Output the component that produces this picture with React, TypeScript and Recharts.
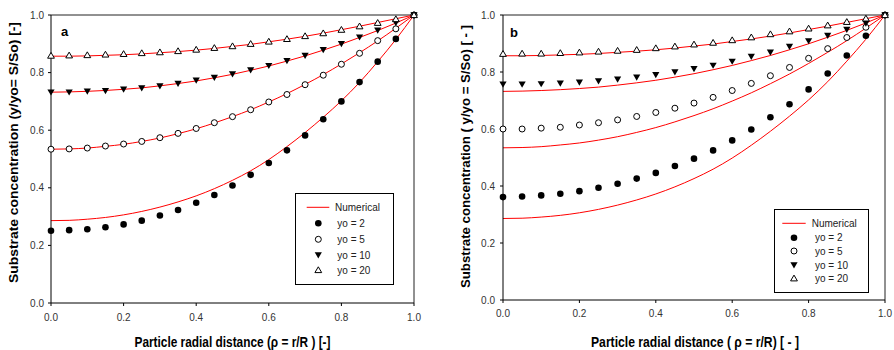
import { ComposedChart, Line, Scatter, XAxis, YAxis, ReferenceLine } from 'recharts'

// radial positions (rho = r/R)
const rho = [0, 0.05, 0.1, 0.15, 0.2, 0.25, 0.3, 0.35, 0.4, 0.45, 0.5, 0.55, 0.6, 0.65, 0.7, 0.75, 0.8, 0.85, 0.9, 0.95, 1.0]
const axisTicks = [0, 0.2, 0.4, 0.6, 0.8, 1.0]

// numerical solution (same curves in both panels)
const numYo2 = [0.286, 0.287, 0.291, 0.297, 0.306, 0.318, 0.333, 0.351, 0.372, 0.397, 0.426, 0.459, 0.498, 0.543, 0.592, 0.645, 0.702, 0.766, 0.838, 0.915, 1.0]
const numYo5 = [0.534, 0.535, 0.538, 0.544, 0.551, 0.561, 0.573, 0.588, 0.605, 0.625, 0.647, 0.671, 0.698, 0.727, 0.759, 0.793, 0.830, 0.869, 0.910, 0.954, 1.0]
const numYo10 = [0.732, 0.733, 0.735, 0.738, 0.742, 0.747, 0.754, 0.762, 0.771, 0.782, 0.794, 0.808, 0.823, 0.840, 0.858, 0.878, 0.899, 0.922, 0.946, 0.972, 1.0]
const numYo20 = [0.857, 0.857, 0.858, 0.860, 0.862, 0.865, 0.869, 0.873, 0.878, 0.884, 0.891, 0.898, 0.907, 0.916, 0.926, 0.937, 0.949, 0.961, 0.974, 0.987, 1.0]

// panel a points
const aYo2 = [0.251, 0.253, 0.256, 0.263, 0.273, 0.286, 0.304, 0.323, 0.348, 0.375, 0.408, 0.445, 0.486, 0.530, 0.582, 0.638, 0.700, 0.767, 0.838, 0.917, 1.0]
const aYo5 = [0.534, 0.535, 0.538, 0.545, 0.552, 0.561, 0.574, 0.589, 0.606, 0.626, 0.647, 0.671, 0.698, 0.724, 0.758, 0.791, 0.829, 0.867, 0.911, 0.952, 1.0]
const aYo10 = [0.732, 0.732, 0.735, 0.737, 0.742, 0.746, 0.753, 0.762, 0.773, 0.783, 0.795, 0.809, 0.824, 0.841, 0.859, 0.879, 0.900, 0.923, 0.947, 0.973, 1.0]
const aYo20 = [0.859, 0.860, 0.861, 0.863, 0.865, 0.868, 0.871, 0.875, 0.880, 0.886, 0.892, 0.900, 0.908, 0.917, 0.927, 0.937, 0.949, 0.961, 0.973, 0.986, 1.0]

// panel b points
const bYo2 = [0.361, 0.363, 0.367, 0.373, 0.382, 0.394, 0.408, 0.426, 0.446, 0.470, 0.496, 0.525, 0.560, 0.598, 0.641, 0.687, 0.739, 0.795, 0.858, 0.927, 1.0]
const bYo5 = [0.600, 0.600, 0.603, 0.606, 0.614, 0.622, 0.632, 0.644, 0.658, 0.673, 0.691, 0.711, 0.735, 0.760, 0.787, 0.816, 0.848, 0.882, 0.921, 0.957, 1.0]
const bYo10 = [0.757, 0.757, 0.758, 0.760, 0.764, 0.768, 0.774, 0.781, 0.790, 0.800, 0.811, 0.823, 0.837, 0.854, 0.869, 0.889, 0.909, 0.928, 0.949, 0.971, 1.0]
const bYo20 = [0.864, 0.865, 0.865, 0.867, 0.869, 0.872, 0.875, 0.878, 0.884, 0.890, 0.897, 0.903, 0.912, 0.922, 0.933, 0.943, 0.953, 0.964, 0.976, 0.988, 1.0]

const legendNames = ['yo = 2', 'yo = 5', 'yo = 10', 'yo = 20']

const FONT = '"Liberation Sans", Arial, sans-serif'
const RED = '#ff0000'

function buildRows(m2: number[], m5: number[], m10: number[], m20: number[]) {
  return rho.map((x, i) => ({
    x,
    n2: numYo2[i], n5: numYo5[i], n10: numYo10[i], n20: numYo20[i],
    m2: m2[i], m5: m5[i], m10: m10[i], m20: m20[i],
  }))
}

const FilledDot = (p: any) => <circle cx={p.cx} cy={p.cy} r={3.3} fill="#000" />
const OpenDot = (p: any) => <circle cx={p.cx} cy={p.cy} r={3} fill="#fff" stroke="#000" strokeWidth={1} />
const DownTri = (p: any) => (
  <path d={`M${p.cx - 3.6},${p.cy - 2.8} L${p.cx + 3.6},${p.cy - 2.8} L${p.cx},${p.cy + 3.4} Z`} fill="#000" />
)
const UpTri = (p: any) => (
  <path d={`M${p.cx - 3.4},${p.cy + 2.6} L${p.cx + 3.4},${p.cy + 2.6} L${p.cx},${p.cy - 3.2} Z`} fill="#fff" stroke="#000" strokeWidth={1} />
)
const shapes = [FilledDot, OpenDot, DownTri, UpTri]

interface PanelProps {
  rows: ReturnType<typeof buildRows>
  width: number
  yAxisWidth: number
  xAxisHeight: number
  marginRight: number
  letter: string
  letterPos: [number, number]
  yLabel: string
  yLabelPos: [number, number, number]
  xLabel: string
  xLabelPos: [number, number, number]
  tickGapX: number
  tickGapY: number
}

function Panel(p: PanelProps) {
  const tickStyle = { fill: '#333', fontSize: 10, fontFamily: FONT }
  return (
    <ComposedChart
      width={p.width}
      height={350}
      data={p.rows}
      margin={{ top: 15, right: p.marginRight, bottom: 0, left: 0 }}
    >
      <XAxis
        dataKey="x"
        type="number"
        domain={[0, 1]}
        ticks={axisTicks}
        interval={0}
        tickFormatter={(v: number) => v.toFixed(1)}
        height={p.xAxisHeight}
        tickSize={3}
        tickMargin={p.tickGapX}
        stroke="#000"
        tick={tickStyle}
        label={() => (
          <text
            x={p.xLabelPos[0]}
            y={p.xLabelPos[1]}
            textAnchor="middle"
            textLength={p.xLabelPos[2]}
            lengthAdjust="spacingAndGlyphs"
            style={{ fontFamily: FONT, fontWeight: 'bold', fontSize: 14, fill: '#000' }}
          >
            {p.xLabel}
          </text>
        )}
      />
      <YAxis
        type="number"
        domain={[0, 1]}
        ticks={axisTicks}
        interval={0}
        tickFormatter={(v: number) => v.toFixed(1)}
        width={p.yAxisWidth}
        tickSize={3}
        tickMargin={p.tickGapY}
        stroke="#000"
        tick={tickStyle}
        label={() => (
          <g>
            <text
              transform={`translate(${p.yLabelPos[0]},${p.yLabelPos[1]}) rotate(-90)`}
              textAnchor="middle"
              textLength={p.yLabelPos[2]}
              lengthAdjust="spacingAndGlyphs"
              style={{ fontFamily: FONT, fontWeight: 'bold', fontSize: 13, fill: '#000' }}
            >
              {p.yLabel}
            </text>
            <text
              x={p.letterPos[0]}
              y={p.letterPos[1]}
              style={{ fontFamily: FONT, fontWeight: 'bold', fontSize: 13, fill: '#000' }}
            >
              {p.letter}
            </text>
          </g>
        )}
      />
      <ReferenceLine y={1} stroke="#222" strokeWidth={1} />
      <ReferenceLine x={1} stroke="#222" strokeWidth={1} />
      {['n2', 'n5', 'n10', 'n20'].map(k => (
        <Line key={k} dataKey={k} type="monotone" stroke={RED} strokeWidth={1} dot={false} isAnimationActive={false} />
      ))}
      {['m2', 'm5', 'm10', 'm20'].map((k, i) => (
        <Scatter key={k} dataKey={k} shape={shapes[i]} isAnimationActive={false} />
      ))}
    </ComposedChart>
  )
}

interface LegendProps {
  left: number
  top: number
  width: number
  height: number
  lineX: [number, number]
  lineY: number
  numTextX: number
  markerX: number
  rowsY: number[]
  textX: number
}

function LegendBox(l: LegendProps) {
  const text = { fontFamily: FONT, fontSize: 10, fill: '#222' }
  return (
    <svg
      width={l.width}
      height={l.height}
      style={{ position: 'absolute', left: l.left, top: l.top, overflow: 'visible' }}
    >
      <rect x={0.5} y={0.5} width={l.width - 1} height={l.height - 1} fill="#fff" stroke="#000" strokeWidth={1} />
      <line x1={l.lineX[0]} x2={l.lineX[1]} y1={l.lineY} y2={l.lineY} stroke={RED} strokeWidth={1} />
      <text x={l.numTextX} y={l.lineY + 3.6} style={text}>Numerical</text>
      {legendNames.map((name, i) => {
        const Shape = shapes[i]
        return (
          <g key={name}>
            <Shape cx={l.markerX} cy={l.rowsY[i]} />
            <text x={l.textX} y={l.rowsY[i] + 3.6} style={text}>{name}</text>
          </g>
        )
      })}
    </svg>
  )
}

export default function App() {
  const rowsA = buildRows(aYo2, aYo5, aYo10, aYo20)
  const rowsB = buildRows(bYo2, bYo5, bYo10, bYo20)
  return (
    <div style={{ position: 'absolute', left: 0, top: 0, width: 894, height: 350, background: '#fff', overflow: 'hidden' }}>
      <div style={{ position: 'absolute', left: 0, top: 0 }}>
        <Panel
          rows={rowsA}
          width={430}
          yAxisWidth={51}
          xAxisHeight={47}
          marginRight={16}
          letter="a"
          letterPos={[61, 36]}
          yLabel="Substrate concentration (y/yo= S/So) [-]"
          yLabelPos={[18, 152.5, 261]}
          xLabel="Particle radial distance (ρ = r/R ) [-]"
          xLabelPos={[232.5, 346.7, 196]}
          tickGapX={8}
          tickGapY={4}
        />
      </div>
      <div style={{ position: 'absolute', left: 440, top: 0 }}>
        <Panel
          rows={rowsB}
          width={454}
          yAxisWidth={63}
          xAxisHeight={50}
          marginRight={9}
          letter="b"
          letterPos={[70, 37]}
          yLabel="Substrate concentration ( y/yo = S/So) [ - ]"
          yLabelPos={[29.5, 156.5, 263]}
          xLabel="Particle radial distance ( ρ = r/R) [ - ]"
          xLabelPos={[255, 347, 208]}
          tickGapX={7}
          tickGapY={5}
        />
      </div>
      <LegendBox
        left={295}
        top={193}
        width={99}
        height={92}
        lineX={[11.7, 34.3]}
        lineY={14.3}
        numTextX={40}
        markerX={23.3}
        rowsY={[30.3, 46.3, 62, 77]}
        textX={42.3}
      />
      <LegendBox
        left={774}
        top={209}
        width={95}
        height={84}
        lineX={[8.3, 31.7]}
        lineY={14.3}
        numTextX={37.7}
        markerX={20}
        rowsY={[28.7, 42, 56, 69.3]}
        textX={41}
      />
    </div>
  )
}
